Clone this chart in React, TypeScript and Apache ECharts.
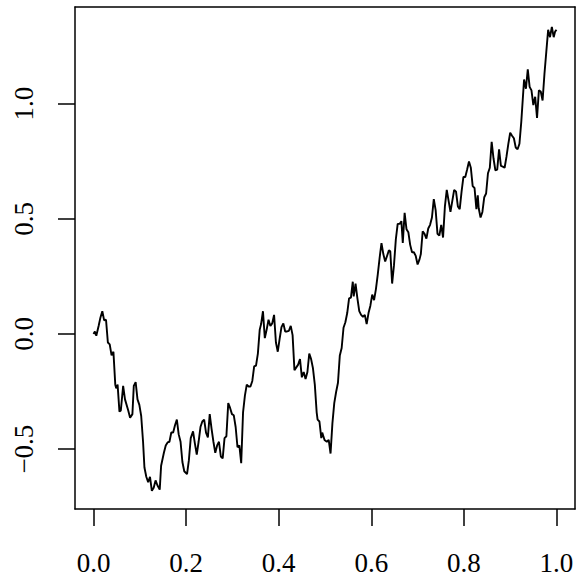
import React, { useEffect, useRef } from "react";
import * as echarts from "echarts";

const timeValues: number[] = [
  0.000, 0.003, 0.006, 0.011, 0.015, 0.019, 0.023, 0.027, 0.031, 0.035,
  0.039, 0.043, 0.047, 0.049, 0.052, 0.056, 0.059, 0.064, 0.068, 0.075,
  0.079, 0.084, 0.087, 0.091, 0.095, 0.099, 0.103, 0.107, 0.110, 0.114,
  0.118, 0.122, 0.126, 0.130, 0.134, 0.138, 0.143, 0.146, 0.152, 0.156,
  0.160, 0.164, 0.168, 0.172, 0.176, 0.180, 0.184, 0.188, 0.192, 0.196,
  0.202, 0.206, 0.210, 0.215, 0.219, 0.223, 0.227, 0.231, 0.235, 0.239,
  0.243, 0.247, 0.251, 0.255, 0.259, 0.263, 0.267, 0.271, 0.275, 0.279,
  0.283, 0.287, 0.291, 0.295, 0.299, 0.303, 0.307, 0.311, 0.315, 0.319,
  0.323, 0.327, 0.331, 0.335, 0.339, 0.343, 0.347, 0.351, 0.355, 0.359,
  0.362, 0.366, 0.370, 0.374, 0.378, 0.382, 0.386, 0.390, 0.394, 0.398,
  0.402, 0.406, 0.410, 0.414, 0.418, 0.422, 0.426, 0.430, 0.434, 0.438,
  0.442, 0.446, 0.450, 0.454, 0.458, 0.462, 0.466, 0.470, 0.474, 0.478,
  0.482, 0.484, 0.488, 0.492, 0.494, 0.499, 0.504, 0.508, 0.512, 0.516,
  0.520, 0.524, 0.528, 0.532, 0.536, 0.540, 0.544, 0.548, 0.552, 0.556,
  0.560, 0.562, 0.566, 0.570, 0.574, 0.578, 0.582, 0.586, 0.590, 0.594,
  0.598, 0.602, 0.606, 0.610, 0.614, 0.618, 0.622, 0.626, 0.630, 0.634,
  0.638, 0.641, 0.645, 0.649, 0.653, 0.657, 0.661, 0.665, 0.668, 0.672,
  0.676, 0.680, 0.684, 0.688, 0.692, 0.696, 0.700, 0.704, 0.707, 0.711,
  0.715, 0.719, 0.723, 0.727, 0.731, 0.735, 0.739, 0.743, 0.747, 0.751,
  0.755, 0.759, 0.763, 0.767, 0.771, 0.775, 0.779, 0.783, 0.787, 0.791,
  0.795, 0.799, 0.803, 0.807, 0.811, 0.815, 0.819, 0.823, 0.827, 0.830,
  0.832, 0.836, 0.840, 0.844, 0.848, 0.852, 0.856, 0.860, 0.864, 0.868,
  0.872, 0.876, 0.880, 0.884, 0.888, 0.892, 0.896, 0.900, 0.904, 0.908,
  0.912, 0.916, 0.920, 0.924, 0.930, 0.934, 0.938, 0.942, 0.946, 0.950,
  0.954, 0.958, 0.962, 0.966, 0.970, 0.974, 0.978, 0.982, 0.986, 0.990,
  0.994, 0.997, 1.000,
];

const pathValues: number[] = [
  0.000, 0.011, -0.008, 0.035, 0.072, 0.099, 0.059, 0.062, -0.037, -0.045,
  -0.093, -0.077, -0.220, -0.236, -0.220, -0.337, -0.332, -0.225, -0.284, -0.332,
  -0.364, -0.348, -0.225, -0.209, -0.284, -0.308, -0.356, -0.468, -0.580, -0.620,
  -0.644, -0.620, -0.681, -0.668, -0.636, -0.657, -0.676, -0.572, -0.516, -0.484,
  -0.471, -0.468, -0.428, -0.428, -0.396, -0.372, -0.436, -0.468, -0.556, -0.596,
  -0.609, -0.548, -0.452, -0.423, -0.476, -0.524, -0.468, -0.404, -0.380, -0.372,
  -0.428, -0.449, -0.348, -0.412, -0.468, -0.516, -0.484, -0.468, -0.532, -0.540,
  -0.452, -0.444, -0.300, -0.321, -0.348, -0.353, -0.404, -0.492, -0.484, -0.561,
  -0.340, -0.268, -0.220, -0.228, -0.228, -0.204, -0.141, -0.137, -0.085, 0.019,
  0.043, 0.099, -0.018, 0.019, 0.062, 0.035, 0.046, 0.083, -0.037, -0.077,
  -0.021, 0.030, 0.046, 0.011, 0.011, 0.014, 0.035, -0.005, -0.157, -0.145,
  -0.133, -0.109, -0.188, -0.165, -0.196, -0.165, -0.085, -0.109, -0.149, -0.220,
  -0.340, -0.372, -0.380, -0.452, -0.428, -0.460, -0.468, -0.460, -0.519, -0.388,
  -0.300, -0.252, -0.212, -0.093, -0.061, 0.027, 0.051, 0.091, 0.155, 0.158,
  0.227, 0.163, 0.219, 0.155, 0.099, 0.083, 0.075, 0.083, 0.043, 0.091,
  0.123, 0.171, 0.147, 0.195, 0.259, 0.331, 0.395, 0.347, 0.315, 0.339,
  0.363, 0.359, 0.219, 0.299, 0.411, 0.478, 0.478, 0.490, 0.395, 0.526,
  0.455, 0.442, 0.387, 0.355, 0.355, 0.339, 0.302, 0.323, 0.347, 0.446,
  0.435, 0.414, 0.458, 0.474, 0.506, 0.586, 0.538, 0.435, 0.427, 0.474,
  0.419, 0.554, 0.626, 0.578, 0.530, 0.578, 0.626, 0.618, 0.554, 0.542,
  0.618, 0.682, 0.682, 0.714, 0.749, 0.722, 0.642, 0.634, 0.542, 0.602,
  0.546, 0.506, 0.530, 0.594, 0.610, 0.698, 0.722, 0.834, 0.762, 0.711,
  0.714, 0.802, 0.730, 0.727, 0.722, 0.770, 0.826, 0.874, 0.861, 0.850,
  0.810, 0.802, 0.826, 0.922, 1.105, 1.065, 1.149, 1.073, 1.058, 0.994,
  1.030, 0.938, 1.058, 1.053, 1.014, 1.129, 1.225, 1.321, 1.289, 1.334,
  1.289, 1.313, 1.321,
];

const xTicks: number[] = [0, 0.2, 0.4, 0.6, 0.8, 1.0];
const yTicks: number[] = [-0.5, 0, 0.5, 1.0];

const fmt = (v: number) => {
  const s = Math.abs(v).toFixed(1);
  return v < 0 ? "\u2212" + s : s;
};

export default function App() {
  const ref = useRef<HTMLDivElement>(null);
  useEffect(() => {
    if (!ref.current) return;
    const chart = echarts.init(ref.current, null, { renderer: "svg" });
    const data = timeValues.map((t, i) => [t, pathValues[i]]);
    const font = "'Liberation Serif', 'Times New Roman', serif";
    const line = { show: true, onZero: false, lineStyle: { color: "#000", width: 1.5 } };
    const xMin = -0.04;
    const xMax = 1.04;
    const yMin = -0.76;
    const yMax = 1.42;
    chart.setOption({
      animation: false,
      backgroundColor: "#fff",
      grid: { left: 75, right: 3, top: 7, bottom: 67 },
      xAxis: [
        {
          type: "value",
          position: "bottom",
          min: xMin,
          max: xMax,
          axisLine: line,
          splitLine: { show: false },
          axisTick: {
            show: true,
            length: 17,
            customValues: xTicks,
            lineStyle: { color: "#000", width: 1.5 },
          },
          axisLabel: {
            show: true,
            customValues: xTicks,
            formatter: fmt,
            margin: 40,
            color: "#000",
            fontFamily: font,
            fontSize: 27,
          },
        },
        {
          type: "value",
          position: "top",
          min: xMin,
          max: xMax,
          axisLine: line,
          splitLine: { show: false },
          axisTick: { show: false },
          axisLabel: { show: false },
        },
      ],
      yAxis: [
        {
          type: "value",
          position: "left",
          min: yMin,
          max: yMax,
          axisLine: line,
          splitLine: { show: false },
          axisTick: {
            show: true,
            length: 17,
            customValues: yTicks,
            lineStyle: { color: "#000", width: 1.5 },
          },
          axisLabel: {
            show: true,
            customValues: yTicks,
            formatter: fmt,
            rotate: 90,
            margin: 38,
            color: "#000",
            fontFamily: font,
            fontSize: 27,
          },
        },
        {
          type: "value",
          position: "right",
          min: yMin,
          max: yMax,
          axisLine: line,
          splitLine: { show: false },
          axisTick: { show: false },
          axisLabel: { show: false },
        },
      ],
      series: [
        {
          type: "line",
          xAxisIndex: 0,
          yAxisIndex: 0,
          data,
          showSymbol: false,
          symbol: "none",
          lineStyle: { color: "#000", width: 1.9 },
          silent: true,
        },
      ],
    });
    return () => chart.dispose();
  }, []);
  return (
    <div
      ref={ref}
      style={{ position: "fixed", left: 0, top: 0, width: 578, height: 576 }}
    />
  );
}
